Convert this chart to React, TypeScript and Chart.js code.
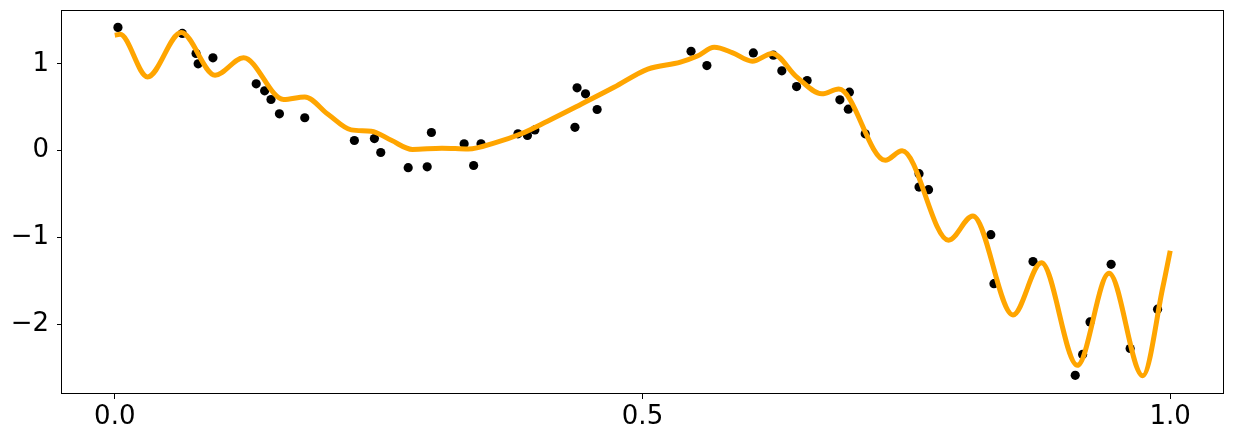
import React, { useEffect, useRef } from "react";
import { Chart, registerables } from "chart.js";

Chart.register(...registerables);

// Observed data points (x, y)
const pointX = [
  0.003, 0.064, 0.077, 0.079, 0.093, 0.134, 0.142, 0.148, 0.156, 0.18,
  0.227, 0.246, 0.252, 0.278, 0.296, 0.3, 0.331, 0.34, 0.347, 0.382,
  0.391, 0.398, 0.436, 0.438, 0.446, 0.457, 0.546, 0.561, 0.605, 0.624,
  0.632, 0.646, 0.656, 0.687, 0.696, 0.695, 0.711, 0.762, 0.762, 0.771,
  0.83, 0.833, 0.87, 0.91, 0.917, 0.924, 0.944, 0.962, 0.988,
];
const pointY = [
  1.42, 1.35, 1.12, 1.0, 1.07, 0.77, 0.69, 0.59, 0.425, 0.38,
  0.118, 0.14, -0.02, -0.195, -0.185, 0.21, 0.08, -0.17, 0.08, 0.195,
  0.176, 0.24, 0.27, 0.724, 0.655, 0.475, 1.145, 0.98, 1.126, 1.1,
  0.92, 0.739, 0.808, 0.586, 0.674, 0.478, 0.195, -0.264, -0.418, -0.448,
  -0.966, -1.53, -1.276, -2.585, -2.345, -1.97, -1.307, -2.276, -1.824,
];

// Fitted curve samples (x, y), read at turning points and shoulders
const curveX = [
  0.0, 0.005, 0.031, 0.063, 0.095, 0.122, 0.16, 0.18, 0.202, 0.224,
  0.243, 0.262, 0.282, 0.31, 0.335, 0.36, 0.385, 0.41, 0.441, 0.473,
  0.505, 0.536, 0.552, 0.568, 0.585, 0.604, 0.623, 0.646, 0.67, 0.686,
  0.73, 0.746, 0.79, 0.813, 0.851, 0.878, 0.912, 0.942, 0.974, 0.993,
  1.0,
];
const curveY = [
  1.33, 1.34, 0.85, 1.36, 0.87, 1.07, 0.59, 0.62, 0.42, 0.24,
  0.225, 0.12, 0.015, 0.03, 0.02, 0.09, 0.195, 0.34, 0.53, 0.73,
  0.94, 1.02, 1.09, 1.19, 1.13, 1.03, 1.12, 0.85, 0.655, 0.71,
  -0.11, 0.0, -1.03, -0.75, -1.89, -1.29, -2.47, -1.41, -2.59, -1.57,
  -1.15,
];

const xTicks = [0, 0.5, 1.0];
const yTicks = [-2, -1, 0, 1];

const FONT = "'DejaVu Sans', sans-serif";

export default function App() {
  const ref = useRef<HTMLCanvasElement | null>(null);

  useEffect(() => {
    document.body.style.margin = "0";
    const canvas = ref.current;
    if (!canvas) return;

    const boxPlugin = {
      id: "boxPlugin",
      afterDraw(chart: any) {
        const { ctx, chartArea } = chart;
        ctx.save();
        ctx.strokeStyle = "#000";
        ctx.lineWidth = 1;
        ctx.strokeRect(
          Math.round(chartArea.left) - 0.5,
          Math.round(chartArea.top) + 0.5,
          Math.round(chartArea.right - chartArea.left) + 1,
          Math.round(chartArea.bottom - chartArea.top) - 1
        );
        ctx.restore();
      },
    };

    const chart = new Chart(canvas, {
      type: "scatter",
      data: {
        datasets: [
          {
            type: "line",
            data: curveX.map((x, i) => ({ x, y: curveY[i] })),
            borderColor: "#FFA500",
            backgroundColor: "#FFA500",
            borderWidth: 5,
            pointRadius: 0,
            cubicInterpolationMode: "monotone",
            fill: false,
            order: 0,
          } as any,
          {
            type: "scatter",
            data: pointX.map((x, i) => ({ x, y: pointY[i] })),
            backgroundColor: "#000",
            borderColor: "#000",
            pointRadius: 4.6,
            pointBorderWidth: 0,
            order: 1,
          },
        ],
      },
      options: {
        animation: false,
        responsive: false,
        layout: { padding: { top: 10, right: 10, left: 0, bottom: 0 } },
        plugins: {
          legend: { display: false },
          tooltip: { enabled: false },
        },
        scales: {
          x: {
            type: "linear",
            min: -0.05,
            max: 1.05,
            afterBuildTicks: (s: any) => {
              s.ticks = xTicks.map((v) => ({ value: v }));
            },
            afterFit: (s: any) => {
              s.height = 48;
              s.paddingLeft = 0;
              s.paddingRight = 0;
            },
            ticks: {
              callback: (v: any) => Number(v).toFixed(1),
              color: "#000",
              font: { family: FONT, size: 26 },
              padding: 3,
              maxRotation: 0,
            },
            grid: {
              drawOnChartArea: false,
              drawTicks: true,
              tickLength: 5,
              color: "#000",
              lineWidth: 1,
            },
            border: { display: false },
          },
          y: {
            type: "linear",
            min: -2.8,
            max: 1.62,
            afterBuildTicks: (s: any) => {
              s.ticks = yTicks.map((v) => ({ value: v }));
            },
            afterFit: (s: any) => {
              s.width = 62;
              s.paddingTop = 0;
              s.paddingBottom = 0;
            },
            ticks: {
              callback: (v: any) => {
                const n = Number(v);
                return n < 0 ? "\u2212" + Math.abs(n) : String(n);
              },
              color: "#000",
              font: { family: FONT, size: 26 },
              padding: 8,
            },
            grid: {
              drawOnChartArea: false,
              drawTicks: true,
              tickLength: 5,
              color: "#000",
              lineWidth: 1,
            },
            border: { display: false },
          },
        },
      },
      plugins: [boxPlugin],
    });

    return () => chart.destroy();
  }, []);

  return (
    <div style={{ position: "absolute", left: 0, top: 0, width: 1233, height: 442 }}>
      <canvas ref={ref} width={1233} height={442} style={{ width: 1233, height: 442 }} />
    </div>
  );
}
